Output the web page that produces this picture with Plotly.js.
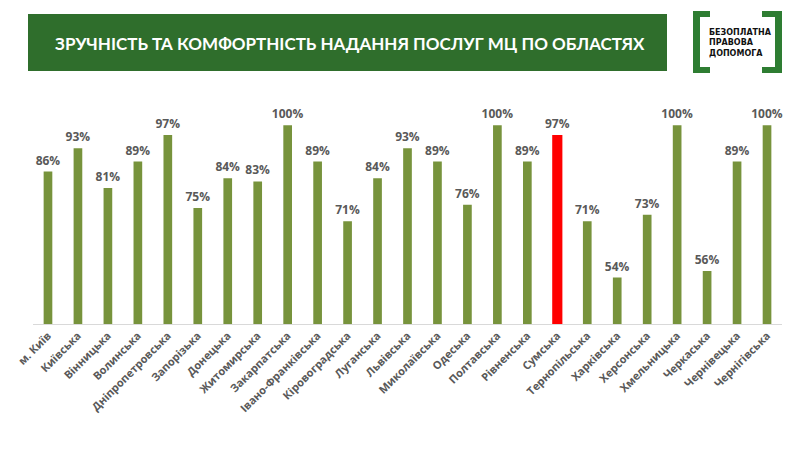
<!DOCTYPE html>
<html>
<head>
<meta charset="utf-8">
<script src="https://cdn.plot.ly/plotly-3.0.1.min.js"></script>
<style>html,body{margin:0;padding:0;background:#fff;}#chart{width:800px;height:450px;}</style>
</head>
<body>
<div id="chart"></div>
<script>
const regions = ["м. Київ","Київська","Вінницька","Волинська","Дніпропетровська","Запорізька","Донецька","Житомирська","Закарпатська","Івано-Франківська","Кіровоградська","Луганська","Львівська","Миколаївська","Одеська","Полтавська","Рівненська","Сумська","Тернопільська","Харківська","Херсонська","Хмельницька","Черкаська","Чернівецька","Чернігівська"];
const values = [86,93,81,89,97,75,84,83,100,89,71,84,93,89,76,100,89,97,71,54,73,100,56,89,100];
const highlight = "Сумська";
const titleText = "ЗРУЧНІСТЬ ТА КОМФОРТНІСТЬ НАДАННЯ ПОСЛУГ МЦ ПО ОБЛАСТЯХ";
const logoLines = ["БЕЗОПЛАТНА","ПРАВОВА","ДОПОМОГА"];

const colors = regions.map(r => r === highlight ? "#ff0000" : "#77933c");
const widths = regions.map(r => r === highlight ? 0.34 : 0.29);

// plot area: x 33..782, y 90..324
const L = 33, R = 782, T = 90, B = 324;
const px = x => (x - L) / (R - L);
const py = y => (B - y) / (B - T);

const green = "#2f6e2c";
const logoGreen = "#2e7d32";
const shapes = [
  {type:"rect", xref:"paper", yref:"paper", x0:px(28), x1:px(667), y0:py(71), y1:py(14), fillcolor:green, line:{width:0}, layer:"below"},
  // left bracket
  {type:"rect", xref:"paper", yref:"paper", x0:px(693), x1:px(700), y0:py(73), y1:py(11), fillcolor:logoGreen, line:{width:0}},
  {type:"rect", xref:"paper", yref:"paper", x0:px(693), x1:px(710), y0:py(17), y1:py(11), fillcolor:logoGreen, line:{width:0}},
  {type:"rect", xref:"paper", yref:"paper", x0:px(693), x1:px(710), y0:py(73), y1:py(67), fillcolor:logoGreen, line:{width:0}},
  // right bracket
  {type:"rect", xref:"paper", yref:"paper", x0:px(775), x1:px(782), y0:py(73), y1:py(11), fillcolor:logoGreen, line:{width:0}},
  {type:"rect", xref:"paper", yref:"paper", x0:px(762), x1:px(782), y0:py(17), y1:py(11), fillcolor:logoGreen, line:{width:0}},
  {type:"rect", xref:"paper", yref:"paper", x0:px(762), x1:px(782), y0:py(73), y1:py(67), fillcolor:logoGreen, line:{width:0}}
];

const annotations = [
  {xref:"paper", yref:"paper", x:px(350), y:py(43), text:"<b>"+titleText+"</b>", showarrow:false,
   font:{family:"Lato, 'Open Sans', sans-serif", size:17, color:"#ffffff"}, xanchor:"center", yanchor:"middle"},
  {xref:"paper", yref:"paper", x:px(707), y:py(43), text:"<b>"+logoLines.join("<br>")+"</b>", showarrow:false, align:"left",
   font:{family:"'DejaVu Sans', sans-serif", size:8, color:"#111111"}, xanchor:"left", yanchor:"middle"}
];

const trace = {
  type:"bar", x:regions, y:values, width:widths,
  marker:{color:colors, line:{width:0}},
  text: values.map(v => v + "%"), textposition:"outside", cliponaxis:false, constraintext:"none",
  textfont:{family:"'Open Sans', sans-serif", size:12, color:"#595959", weight:700},
  hoverinfo:"none"
};

const layout = {
  width:800, height:450,
  margin:{l:L, r:800-R, t:T, b:450-B},
  paper_bgcolor:"#ffffff", plot_bgcolor:"#ffffff",
  showlegend:false,
  xaxis:{type:"category", tickangle:-45, showline:true, linecolor:"#d9d9d9", linewidth:1,
         ticks:"", tickfont:{family:"'Open Sans', sans-serif", size:11, color:"#595959", weight:700}, fixedrange:true},
  yaxis:{range:[40, 100 + 35/3.3], visible:false, showgrid:false, zeroline:false, fixedrange:true},
  shapes:shapes, annotations:annotations, bargap:0.7
};

Plotly.newPlot("chart", [trace], layout, {displayModeBar:false, staticPlot:true});
</script>
</body>
</html>
